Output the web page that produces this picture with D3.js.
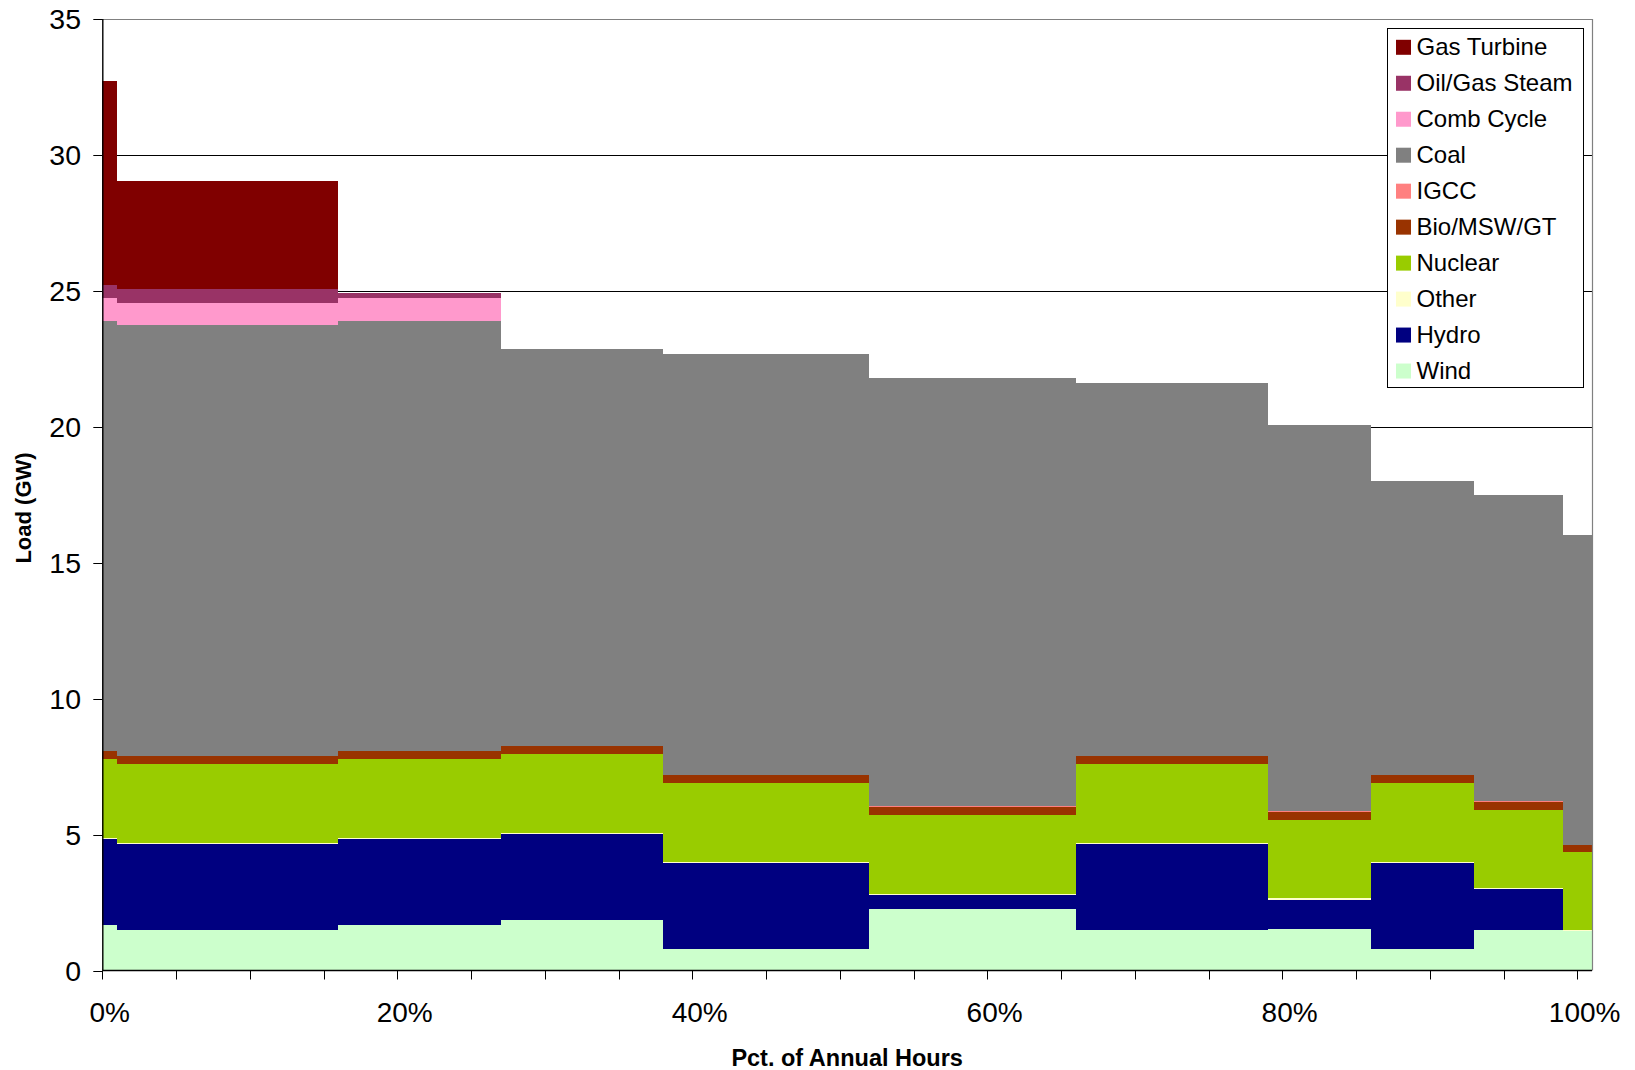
<!DOCTYPE html>
<html>
<head>
<meta charset="utf-8">
<script src="https://cdn.jsdelivr.net/npm/d3@7/dist/d3.min.js"></script>
<style>
  html, body { margin: 0; padding: 0; background: #fff; }
  svg { display: block; font-family: "Liberation Sans", Arial, sans-serif; }
</style>
</head>
<body>
<svg id="chart" width="1635" height="1070"></svg>
<script>
// Hour buckets: each column is 1% of annual hours (0% .. 100%)
const categories = d3.range(101);
// Number of consecutive 1% columns sharing the same dispatch
const blockSpans = [1, 15, 11, 11, 14, 14, 13, 7, 7, 6, 2];

// Generation by type for each block (GW)
const wind        = [1.67, 1.49, 1.67, 1.86, 0.79, 2.26, 1.49, 1.53, 0.79, 1.49, 1.44];
const hydro       = [3.17, 3.17, 3.17, 3.17, 3.17, 0.53, 3.17, 1.08, 3.17, 1.51, 0];
const other       = [0.04, 0.04, 0.04, 0.04, 0.04, 0.04, 0.04, 0.04, 0.04, 0.04, 0.04];
const nuclear     = [2.90, 2.90, 2.90, 2.90, 2.90, 2.90, 2.90, 2.90, 2.90, 2.88, 2.88];
const bioMswGt    = [0.29, 0.29, 0.29, 0.29, 0.29, 0.28, 0.29, 0.28, 0.29, 0.28, 0.26];
const igcc        = [0, 0, 0, 0, 0, 0.04, 0, 0.04, 0, 0.04, 0];
const coal        = [15.83, 15.86, 15.83, 14.61, 15.49, 15.75, 13.73, 14.20, 10.82, 11.25, 11.40];
const combCycle   = [0.84, 0.81, 0.84, 0, 0, 0, 0, 0, 0, 0, 0];
const oilGasSteam = [0.48, 0.51, 0.18, 0, 0, 0, 0, 0, 0, 0, 0];
const gasTurbine  = [7.51, 3.98, 0, 0, 0, 0, 0, 0, 0, 0, 0];

const seriesNames  = ["Wind", "Hydro", "Other", "Nuclear", "Bio/MSW/GT", "IGCC", "Coal", "Comb Cycle", "Oil/Gas Steam", "Gas Turbine"];
const seriesValues = [wind, hydro, other, nuclear, bioMswGt, igcc, coal, combCycle, oilGasSteam, gasTurbine];
const seriesColors = ["#CCFFCC", "#000080", "#FFFFCC", "#99CC00", "#993300", "#FF8080", "#808080", "#FF99CC", "#993366", "#800000"];

const yTicks = [0, 5, 10, 15, 20, 25, 30, 35];
const xLabelCats = [0, 20, 40, 60, 80, 100];

// Expand block values into one row per column
const blockOfCat = [];
blockSpans.forEach((n, b) => { for (let i = 0; i < n; i++) blockOfCat.push(b); });
const rows = categories.map(c => {
  const r = { cat: c };
  seriesNames.forEach((k, s) => { r[k] = seriesValues[s][blockOfCat[c]]; });
  return r;
});

const svg = d3.select("#chart");
const plot = { left: 102.3, right: 1592, top: 19, bottom: 970.5 };

const x = d3.scaleBand().domain(categories).range([plot.left, plot.right]).padding(0);
const y = d3.scaleLinear().domain([0, 35]).range([plot.bottom, plot.top]);

// Horizontal gridlines (behind the stacks)
svg.append("g").selectAll("line")
  .data(yTicks.filter(t => t > 0 && t < 35))
  .join("line")
  .attr("x1", plot.left).attr("x2", plot.right)
  .attr("y1", d => Math.round(y(d)) + 0.5).attr("y2", d => Math.round(y(d)) + 0.5)
  .attr("stroke", "#000").attr("stroke-width", 1);

// Stacked step areas
const stack = d3.stack().keys(seriesNames);
const layers = stack(rows);
const stepPts = layer => {
  const pts = layer.map((d, i) => ({ x: x(categories[i]), y0: d[0], y1: d[1] }));
  const last = layer[layer.length - 1];
  pts.push({ x: x(categories[categories.length - 1]) + x.bandwidth(), y0: last[0], y1: last[1] });
  return pts;
};
const area = d3.area()
  .curve(d3.curveStepAfter)
  .x(d => d.x)
  .y0(d => y(d.y0))
  .y1(d => y(d.y1));

svg.append("g").selectAll("path")
  .data(layers)
  .join("path")
  .attr("d", l => area(stepPts(l)))
  .attr("fill", (l, i) => seriesColors[i])
  .attr("shape-rendering", "crispEdges");

// Plot border (top and right)
svg.append("path")
  .attr("d", `M${plot.left},${plot.top + 0.5}H${plot.right + 0.5}V${plot.bottom}`)
  .attr("fill", "none").attr("stroke", "#808080").attr("stroke-width", 1.2);

// Y axis
const yAxis = svg.append("g");
yAxis.append("line")
  .attr("x1", plot.left + 0.5).attr("x2", plot.left + 0.5)
  .attr("y1", plot.top).attr("y2", plot.bottom)
  .attr("stroke", "#000").attr("stroke-width", 1.4);
yAxis.selectAll("line.tick").data(yTicks).join("line").attr("class", "tick")
  .attr("x1", plot.left - 9).attr("x2", plot.left)
  .attr("y1", d => Math.round(y(d)) + 0.5).attr("y2", d => Math.round(y(d)) + 0.5)
  .attr("stroke", "#000");
yAxis.selectAll("text").data(yTicks).join("text")
  .attr("x", 81).attr("y", d => y(d))
  .attr("dy", "0.36em")
  .attr("text-anchor", "end")
  .attr("font-size", 28.5)
  .attr("fill", "#000")
  .text(d => d);

// X axis
const xAxis = svg.append("g");
xAxis.append("line")
  .attr("x1", plot.left).attr("x2", plot.right)
  .attr("y1", plot.bottom).attr("y2", plot.bottom)
  .attr("stroke", "#000").attr("stroke-width", 1.6);
const tickCats = categories.filter(c => c % 5 === 0);
xAxis.selectAll("line.tick").data(tickCats).join("line").attr("class", "tick")
  .attr("x1", d => Math.round(x(d)) + 0.5).attr("x2", d => Math.round(x(d)) + 0.5)
  .attr("y1", plot.bottom).attr("y2", plot.bottom + 9)
  .attr("stroke", "#000");
xAxis.selectAll("text").data(xLabelCats).join("text")
  .attr("x", d => x(d) + x.bandwidth() / 2)
  .attr("y", 1022)
  .attr("text-anchor", "middle")
  .attr("font-size", 28)
  .attr("fill", "#000")
  .text(d => d + "%");

// Axis titles
svg.append("text")
  .attr("x", (plot.left + plot.right) / 2).attr("y", 1066)
  .attr("text-anchor", "middle")
  .attr("font-size", 23.5).attr("font-weight", "bold")
  .text("Pct. of Annual Hours");
svg.append("text")
  .attr("transform", "translate(31,508) rotate(-90)")
  .attr("text-anchor", "middle")
  .attr("font-size", 22).attr("font-weight", "bold")
  .text("Load (GW)");

// Legend (top of stack listed first)
const legend = svg.append("g");
legend.append("rect")
  .attr("x", 1387.5).attr("y", 28.5).attr("width", 196).attr("height", 359)
  .attr("fill", "#fff").attr("stroke", "#000").attr("stroke-width", 1);
const legendItems = seriesNames.map((n, i) => ({ name: n, color: seriesColors[i] })).reverse();
const li = legend.selectAll("g.item").data(legendItems).join("g").attr("class", "item")
  .attr("transform", (d, i) => `translate(0,${47.3 + i * 35.97})`);
li.append("rect")
  .attr("x", 1396).attr("y", -7.5).attr("width", 15).attr("height", 15)
  .attr("fill", d => d.color);
li.append("text")
  .attr("x", 1416.5).attr("y", 7.5)
  .attr("font-size", 24)
  .attr("fill", "#000")
  .text(d => d.name);
</script>
</body>
</html>
